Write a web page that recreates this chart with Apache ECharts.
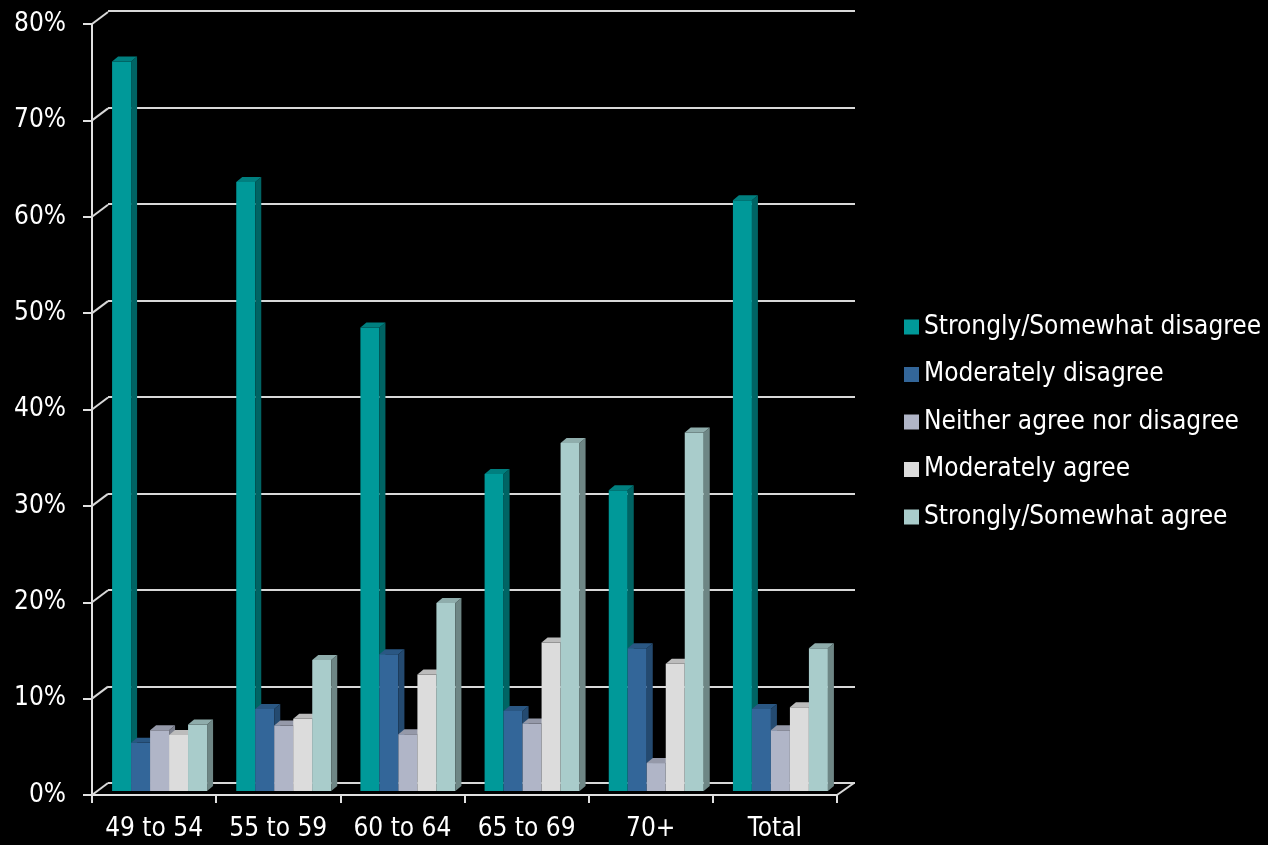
<!DOCTYPE html>
<html><head><meta charset="utf-8">
<script src="https://cdn.jsdelivr.net/npm/echarts@6/dist/echarts.min.js"></script>
<style>html,body{margin:0;padding:0;background:#000;} #c{width:1268px;height:845px;}</style>
</head><body><div id="c"></div>
<script>
const categories = ['49 to 54', '55 to 59', '60 to 64', '65 to 69', '70+', 'Total'];
const seriesNames = ['Strongly/Somewhat disagree', 'Moderately disagree', 'Neither agree nor disagree', 'Moderately agree', 'Strongly/Somewhat agree'];
const stronglyDisagree = [75.7, 63.2, 48.1, 32.9, 31.2, 61.3];
const moderatelyDisagree = [5.0, 8.5, 14.2, 8.3, 14.8, 8.5];
const neitherAgree = [6.3, 6.8, 5.9, 7.0, 2.9, 6.3];
const moderatelyAgree = [5.8, 7.5, 12.1, 15.4, 13.2, 8.7];
const stronglyAgree = [6.9, 13.6, 19.5, 36.1, 37.2, 14.8];
const yTicks = [0, 10, 20, 30, 40, 50, 60, 70, 80];

const seriesValues = [stronglyDisagree, moderatelyDisagree, neitherAgree, moderatelyAgree, stronglyAgree];
const frontColors = ['#009999', '#336699', '#b0b5c7', '#dcdcdc', '#a9cccb'];
const topColors = ['#007f7f', '#2a5783', '#9599a9', '#bcbcbc', '#8fadac'];
const sideColors = ['#006464', '#244a70', '#7c808d', '#9a9a9a', '#6e8685'];
const FONT = '"DejaVu Sans Condensed", "DejaVu Sans", sans-serif';
const FS = 26;

function makeRender(si) {
  return function (params, api) {
    const ci = api.value(0), v = api.value(1);
    const base = api.coord([ci, 0]);
    const top = api.coord([ci, v]);
    const catW = api.size([1, 0])[0];
    const bw = catW * 0.153;
    const x0 = base[0] - 2.5 * bw + si * bw;
    const dx = 6, dy = 5;
    const ty = top[1], by = base[1];
    return {
      type: 'group',
      children: [
        { type: 'rect', shape: { x: x0, y: ty, width: bw, height: by - ty }, style: { fill: frontColors[si] } },
        { type: 'polygon', shape: { points: [[x0 + bw, ty], [x0 + bw + dx, ty - dy], [x0 + bw + dx, by - dy], [x0 + bw, by]] }, style: { fill: sideColors[si] } },
        { type: 'polygon', shape: { points: [[x0, ty], [x0 + dx, ty - dy], [x0 + bw + dx, ty - dy], [x0 + bw, ty]] }, style: { fill: topColors[si] } }
      ]
    };
  };
}

const barSeries = seriesValues.map((vals, si) => ({
  name: seriesNames[si],
  type: 'custom',
  xAxisIndex: 0, yAxisIndex: 0,
  renderItem: makeRender(si),
  itemStyle: { color: frontColors[si] },
  encode: { x: 0, y: 1 },
  data: vals.map((v, i) => [i, v]),
  z: 10 + si,
  clip: false
}));

const diagSeries = {
  type: 'custom',
  xAxisIndex: 2, yAxisIndex: 2,
  silent: true,
  clip: false,
  z: 3,
  renderItem: function (params, api) {
    const cs = params.coordSys;
    const v = api.value(1);
    const y = api.coord([0, v])[1];
    const children = [{ type: 'line', shape: { x1: cs.x, y1: y, x2: cs.x + 16, y2: y - 12 }, style: { stroke: '#d8d8d8', lineWidth: 2 } }];
    if (v === 0) {
      children.push({ type: 'line', shape: { x1: cs.x + cs.width, y1: y, x2: cs.x + cs.width + 17, y2: y - 12 }, style: { stroke: '#d8d8d8', lineWidth: 2 } });
    }
    return { type: 'group', children: children };
  },
  data: yTicks.map(v => [0, v])
};

const chart = echarts.init(document.getElementById('c'));
chart.setOption({
  backgroundColor: '#000000',
  animation: false,
  textStyle: { fontFamily: FONT },
  legend: {
    orient: 'vertical',
    left: 899,
    top: 309,
    itemWidth: 15,
    itemHeight: 15,
    itemGap: 21.5,
    icon: 'rect',
    data: seriesNames,
    textStyle: { color: '#ffffff', fontSize: FS, fontFamily: FONT, lineHeight: 26 }
  },
  grid: [
    { left: 97.5, top: 20, width: 745, height: 771 },
    { left: 108, top: 11, width: 747, height: 772 },
    { left: 92, top: 24, width: 745, height: 771 }
  ],
  xAxis: [
    { gridIndex: 0, type: 'category', data: categories, show: false },
    { gridIndex: 1, type: 'category', data: categories, show: false },
    {
      gridIndex: 2, type: 'category', data: categories,
      axisLine: { show: true, lineStyle: { color: '#e0e0e0', width: 2 } },
      axisTick: { show: true, interval: 0, length: 8, lineStyle: { color: '#e0e0e0', width: 2 } },
      axisLabel: { color: '#ffffff', fontSize: FS, fontFamily: FONT, margin: 21, interval: 0, hideOverlap: false }
    }
  ],
  yAxis: [
    { gridIndex: 0, type: 'value', min: 0, max: 80, interval: 10, show: false },
    {
      gridIndex: 1, type: 'value', min: 0, max: 80, interval: 10,
      axisLine: { show: false }, axisTick: { show: false }, axisLabel: { show: false },
      splitLine: { show: true, lineStyle: { color: '#d8d8d8', width: 2 } }
    },
    {
      gridIndex: 2, type: 'value', min: 0, max: 80, interval: 10,
      axisLine: { show: true, lineStyle: { color: '#e0e0e0', width: 2 } },
      axisTick: { show: true, length: 9, lineStyle: { color: '#e0e0e0', width: 2 } },
      splitLine: { show: false },
      axisLabel: { color: '#ffffff', fontSize: FS, fontFamily: FONT, margin: 26, formatter: '{value}%' }
    }
  ],
  series: [diagSeries].concat(barSeries)
});
</script>
</body></html>
